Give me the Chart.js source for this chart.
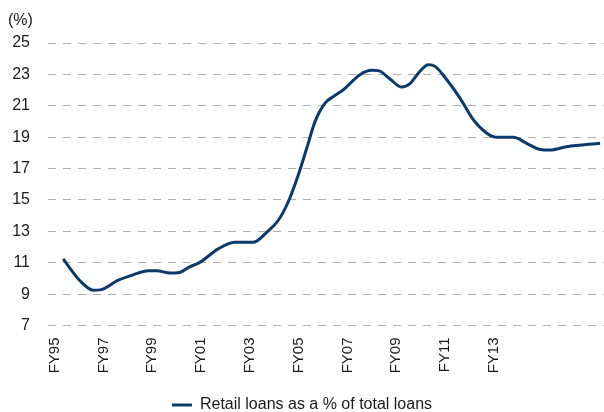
<!DOCTYPE html>
<html>
<head>
<meta charset="utf-8">
<script src="https://cdn.jsdelivr.net/npm/chart.js@4/dist/chart.umd.min.js"></script>
<style>
  html, body { margin: 0; padding: 0; background: #fff; }
  #wrap { width: 604px; height: 412px; }
</style>
</head>
<body>
<div id="wrap"><canvas id="loanChart"></canvas></div>
<script>
// fiscal year position (95 = FY95) and retail share of total loans, %
const fiscalYear = [95.35, 96.04, 96.58, 96.86, 97.61, 98.22, 98.84, 99.18, 99.73, 100.07,
  100.55, 100.95, 101.70, 102.39, 103.14, 103.69, 104.16, 104.57, 104.98, 105.33,
  105.67, 106.08, 106.42, 106.83, 107.51, 107.99, 108.26, 108.74, 109.22, 109.56,
  109.97, 110.31, 110.59, 111.07, 111.61, 112.16, 112.71, 113.11, 113.80, 114.34,
  114.89, 115.30, 115.98, 117.35];
const retailShare = [11.24, 9.85, 9.25, 9.27, 9.89, 10.23, 10.49, 10.49, 10.34, 10.36,
  10.75, 11.02, 11.88, 12.30, 12.30, 12.94, 13.69, 14.87, 16.58, 18.29,
  19.99, 21.17, 21.59, 22.02, 22.98, 23.26, 23.24, 22.71, 22.19, 22.41,
  23.20, 23.62, 23.51, 22.66, 21.49, 20.10, 19.25, 18.99, 18.99, 18.61,
  18.22, 18.18, 18.39, 18.61];
const tickYears = [95, 97, 99, 101, 103, 105, 107, 109, 111, 113];
const seriesName = 'Retail loans as a % of total loans';

const navy = '#0b3a6a';
const fontFamily = '"Liberation Sans", Arial, sans-serif';

// "(%)" unit label above the value axis
const unitLabel = {
  id: 'unitLabel',
  afterDraw(chart) {
    const ctx = chart.ctx;
    ctx.save();
    ctx.font = '16px ' + fontFamily;
    ctx.fillStyle = '#1a1a1a';
    ctx.textBaseline = 'middle';
    ctx.textAlign = 'left';
    ctx.fillText('(%)', 8, 21);
    ctx.restore();
  }
};

new Chart(document.getElementById('loanChart'), {
  type: 'line',
  data: {
    datasets: [{
      label: seriesName,
      data: fiscalYear.map((x, i) => ({ x: x, y: retailShare[i] })),
      borderColor: navy,
      backgroundColor: navy,
      borderWidth: 3,
      pointRadius: 0,
      cubicInterpolationMode: 'monotone',
      fill: false
    }]
  },
  options: {
    responsive: true,
    maintainAspectRatio: false,
    animation: false,
    // legend sits close to the bottom edge, hence the negative bottom padding
    layout: { padding: { top: 43, right: 0, left: 0, bottom: -11 } },
    scales: {
      x: {
        type: 'linear',
        min: 94.73,
        max: 117.51,
        afterBuildTicks(scale) {
          scale.ticks = tickYears.map(v => ({ value: v }));
        },
        afterFit(scale) { scale.height = 70.5; },
        grid: { display: false, drawTicks: false },
        border: { display: false },
        ticks: {
          autoSkip: false,
          minRotation: 90,
          maxRotation: 90,
          padding: 12,
          color: '#1a1a1a',
          font: { family: fontFamily, size: 15 },
          callback: v => 'FY' + String(v % 100).padStart(2, '0')
        }
      },
      y: {
        min: 7,
        max: 25,
        afterFit(scale) { scale.width = 48; },
        grid: {
          color: '#b0b0b0',
          lineWidth: 1,
          drawTicks: false
        },
        border: { display: false, dash: [8, 7] },
        ticks: {
          stepSize: 2,
          padding: 18,
          color: '#1a1a1a',
          font: { family: fontFamily, size: 16 }
        }
      }
    },
    plugins: {
      legend: {
        position: 'bottom',
        labels: {
          boxWidth: 20,
          boxHeight: 3,
          padding: 1,
          color: '#1a1a1a',
          font: { family: fontFamily, size: 16 },
          generateLabels(chart) {
            return Chart.defaults.plugins.legend.labels.generateLabels(chart)
              .map(item => Object.assign(item, { lineWidth: 0, fillStyle: navy }));
          }
        }
      },
      tooltip: { enabled: false }
    }
  },
  plugins: [unitLabel]
});
</script>
</body>
</html>
